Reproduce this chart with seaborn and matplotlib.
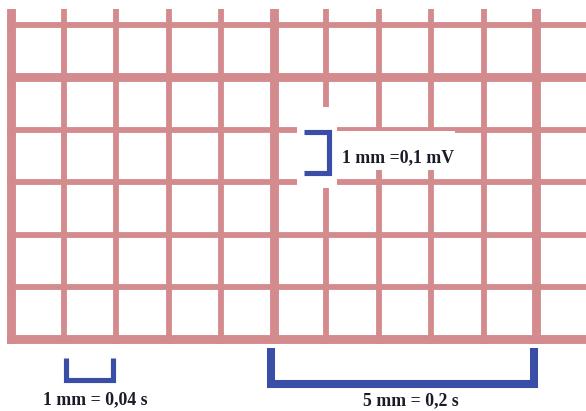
import numpy as np
import pandas as pd
import matplotlib
matplotlib.use("Agg")
import matplotlib.pyplot as plt
from matplotlib.patches import Rectangle
import seaborn as sns

# ---- data (mm units of ECG paper) ----
grid_cols = [0, 1, 2, 3, 4, 5, 6, 7, 8, 9, 10]      # vertical grid lines
grid_rows = [0, 1, 2, 3, 4, 5, 6]                   # horizontal grid lines
major_every = 5
# grid visible area (mm)
grid_left, grid_right, grid_bottom, grid_top = -0.086, 10.95, -0.086, 6.295

# calibration brackets (mm)
bracket_small_x = [1.03, 1.03, 1.93, 1.93]
bracket_small_y = [-0.35, -0.78, -0.78, -0.35]
bracket_big_x = [4.95, 4.95, 9.95, 9.95]
bracket_big_y = [-0.16, -0.85, -0.85, -0.16]
bracket_volt_x = [5.57, 6.05, 6.05, 5.57]
bracket_volt_y = [3.95, 3.95, 3.18, 3.18]

labels = ["1 mm = 0,04 s", "5 mm = 0,2 s", "1 mm =0,1 mV"]
label_x = [1.59, 7.60, 6.30]
label_y = [-1.229, -1.248, 3.386]
label_ha = ["center", "center", "left"]

GRID = "#d48b8e"
BLUE = "#3a4ea8"
INK = "#1c1c28"

sns.set_theme(style="white")

fig = plt.figure(figsize=(5.86, 4.11), dpi=100)
ax = fig.add_axes([0, 0, 1, 1])

# ---- grid lines ----
rows = []
for k in grid_cols:
    w = "thick" if k % major_every == 0 else "thin"
    rows.append(dict(seg=f"v{k}", x=k, y=grid_bottom - 1, weight=w))
    rows.append(dict(seg=f"v{k}", x=k, y=grid_top + 1, weight=w))
for k in grid_rows:
    w = "thick" if k % major_every == 0 else "thin"
    rows.append(dict(seg=f"h{k}", x=grid_left - 1, y=k, weight=w))
    rows.append(dict(seg=f"h{k}", x=grid_right + 1, y=k, weight=w))
grid_df = pd.DataFrame(rows)

n_before = len(ax.lines)
sns.lineplot(data=grid_df, x="x", y="y", units="seg", estimator=None,
             size="weight", sizes={"thin": 4.2, "thick": 6.4},
             color=GRID, sort=False, legend=False, ax=ax,
             solid_capstyle="butt", zorder=2)
clip = Rectangle((grid_left, grid_bottom), grid_right - grid_left,
                 grid_top - grid_bottom, transform=ax.transData,
                 facecolor="none", edgecolor="none")
ax.add_patch(clip)
for ln in ax.lines[n_before:]:
    ln.set_clip_path(clip)

# ---- white masks behind the voltage calibration ----
ax.add_patch(Rectangle((5.44, 2.886), 6.2 - 5.44, 4.43 - 2.886,
                       facecolor="white", edgecolor="none", zorder=3))
ax.add_patch(Rectangle((6.2, 3.229), 8.45 - 6.2, 3.965 - 3.229,
                       facecolor="white", edgecolor="none", zorder=3))

# ---- brackets ----
br = pd.DataFrame(dict(
    seg=["s"] * 4 + ["b"] * 4 + ["v"] * 4,
    x=bracket_small_x + bracket_big_x + bracket_volt_x,
    y=bracket_small_y + bracket_big_y + bracket_volt_y,
    weight=["thin"] * 4 + ["thick"] * 4 + ["thin"] * 4,
))
sns.lineplot(data=br, x="x", y="y", units="seg", estimator=None,
             size="weight", sizes={"thin": 3.7, "thick": 5.8},
             color=BLUE, sort=False, legend=False, ax=ax,
             solid_capstyle="butt", solid_joinstyle="miter", zorder=4)

for t, x, y, ha in zip(labels, label_x, label_y, label_ha):
    ax.text(x, y, t, ha=ha, va="baseline", fontsize=12.8, fontweight="bold",
            family=["Liberation Serif", "DejaVu Serif"], color=INK, zorder=5)

ax.set_xlim(-0.219, 10.943)
ax.set_ylim(-1.362, 6.467)
ax.axis("off")
fig.savefig("out.png", dpi=100, facecolor="white")
